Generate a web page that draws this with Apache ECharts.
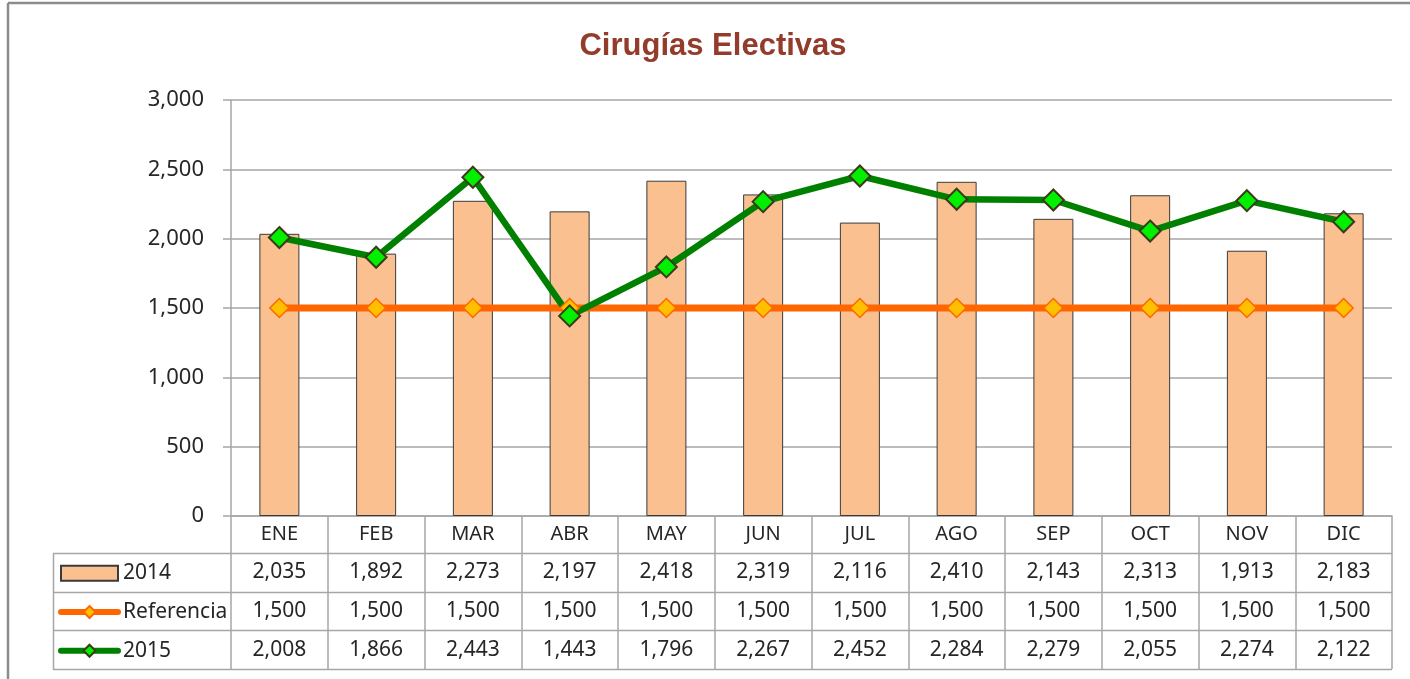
<!DOCTYPE html>
<html><head><meta charset="utf-8">
<script src="https://cdn.jsdelivr.net/npm/echarts@6/dist/echarts.min.js"></script>
<style>html,body{margin:0;padding:0;background:#fff}#c{width:1410px;height:679px}</style>
</head><body><div id="c"></div>
<script>
const categories = ['ENE','FEB','MAR','ABR','MAY','JUN','JUL','AGO','SEP','OCT','NOV','DIC'];
const data2014 = [2035,1892,2273,2197,2418,2319,2116,2410,2143,2313,1913,2183];
const referencia = [1500,1500,1500,1500,1500,1500,1500,1500,1500,1500,1500,1500];
const data2015 = [2008,1866,2443,1443,1796,2267,2452,2284,2279,2055,2274,2122];
const seriesNames = ['2014','Referencia','2015'];

const FONT = 'Noto Sans';
const TXT = '#262626';
const LINE = '#a6a6a6';
const G = {left: 231, right: 18, top: 100, bottom: 163};
const W = 1410, H = 679;
const axisBottom = H - G.bottom;          // 516
const headerH = 37;
const rowH = 38.7;
const tableLeft = 53;
const tableRight = W - G.right;

const fmt = v => v.toLocaleString('en-US');
const rows = [data2014, referencia, data2015];

function rowAxis(k) {
  return {
    type: 'category', data: categories, position: 'bottom', gridIndex: 0,
    offset: headerH + rowH * k + rowH / 2,
    axisLine: {show: false}, axisTick: {show: false}, splitLine: {show: false},
    axisLabel: {interval: 0, margin: 0, verticalAlign: 'middle', fontFamily: FONT, fontSize: 21, color: TXT,
      formatter: (v, i) => fmt(rows[k][i])}
  };
}

const chart = echarts.init(document.getElementById('c'), null, {renderer: 'canvas'});
const gfx = [];
gfx.push({type: 'line', shape: {x1: 8, y1: 3, x2: W, y2: 3}, style: {stroke: '#8c8c8c', lineWidth: 2.5}, silent: true});
gfx.push({type: 'line', shape: {x1: 8, y1: 3, x2: 8, y2: H}, style: {stroke: '#8c8c8c', lineWidth: 2.5}, silent: true});
for (let k = 0; k <= 3; k++) {
  const y = Math.round(axisBottom + headerH + rowH * k) + 0.5;
  gfx.push({type: 'line', shape: {x1: tableLeft, y1: y, x2: tableRight, y2: y}, style: {stroke: LINE, lineWidth: 1.5}, silent: true});
}
gfx.push({type: 'line', shape: {x1: tableLeft + 0.5, y1: Math.round(axisBottom + headerH) + 0.5, x2: tableLeft + 0.5, y2: Math.round(axisBottom + headerH + rowH * 3) + 0.5}, style: {stroke: LINE, lineWidth: 1.5}, silent: true});

chart.setOption({
  animation: false,
  backgroundColor: '#fff',
  title: {
    text: 'Cirugías Electivas', left: 713, top: 31, textAlign: 'center', padding: 0,
    textStyle: {fontFamily: 'Liberation Sans', fontWeight: 'bold', fontSize: 31, color: '#943c2c'}
  },
  legend: {
    orient: 'vertical', left: 58, top: axisBottom + headerH + rowH / 2 - 10,
    padding: 0,
    itemWidth: 57, itemHeight: 15, itemGap: rowH - 22,
    selectedMode: false,
    textStyle: {fontFamily: FONT, fontSize: 21, color: TXT, lineHeight: 22},
    data: [
      {name: '2014', icon: 'rect'},
      {name: 'Referencia', lineStyle: {width: 6, cap: 'round'}},
      {name: '2015', lineStyle: {width: 6, cap: 'round'}}
    ]
  },
  grid: Object.assign({containLabel: false, outerBoundsMode: 'none'}, G),
  xAxis: [
    {
      type: 'category', data: categories, boundaryGap: true,
      axisLine: {show: true, lineStyle: {color: LINE, width: 1.5}},
      axisTick: {show: true, alignWithLabel: false, length: headerH + rowH * 3, lineStyle: {color: LINE, width: 1.5}},
      axisLabel: {interval: 0, margin: headerH / 2, verticalAlign: 'middle', fontFamily: FONT, fontSize: 20, color: TXT},
      splitLine: {show: false}
    },
    rowAxis(0), rowAxis(1), rowAxis(2)
  ],
  yAxis: {
    type: 'value', min: 0, max: 3000, interval: 500,
    axisLine: {show: true, lineStyle: {color: LINE, width: 1.5}},
    axisTick: {show: true, length: 8, lineStyle: {color: LINE, width: 1.5}},
    axisLabel: {margin: 27, fontFamily: FONT, fontSize: 22, color: TXT, formatter: v => fmt(v)},
    splitLine: {show: true, lineStyle: {color: LINE, width: 1.5}}
  },
  series: [
    {
      name: seriesNames[0], type: 'bar', data: data2014, barWidth: 40,
      itemStyle: {color: '#fac090', borderColor: '#3a3a3a', borderWidth: 1}
    },
    {
      name: seriesNames[1], type: 'line', data: referencia,
      symbol: 'diamond', symbolSize: 19,
      lineStyle: {color: '#ff6600', width: 7},
      itemStyle: {color: '#ffc000', borderColor: '#ff6600', borderWidth: 1.5}
    },
    {
      name: seriesNames[2], type: 'line', data: data2015,
      symbol: 'diamond', symbolSize: 21,
      lineStyle: {color: '#008000', width: 6.5},
      itemStyle: {color: '#00f000', borderColor: '#3c3a1a', borderWidth: 2}
    }
  ],
  graphic: gfx
});
</script>
</body></html>
